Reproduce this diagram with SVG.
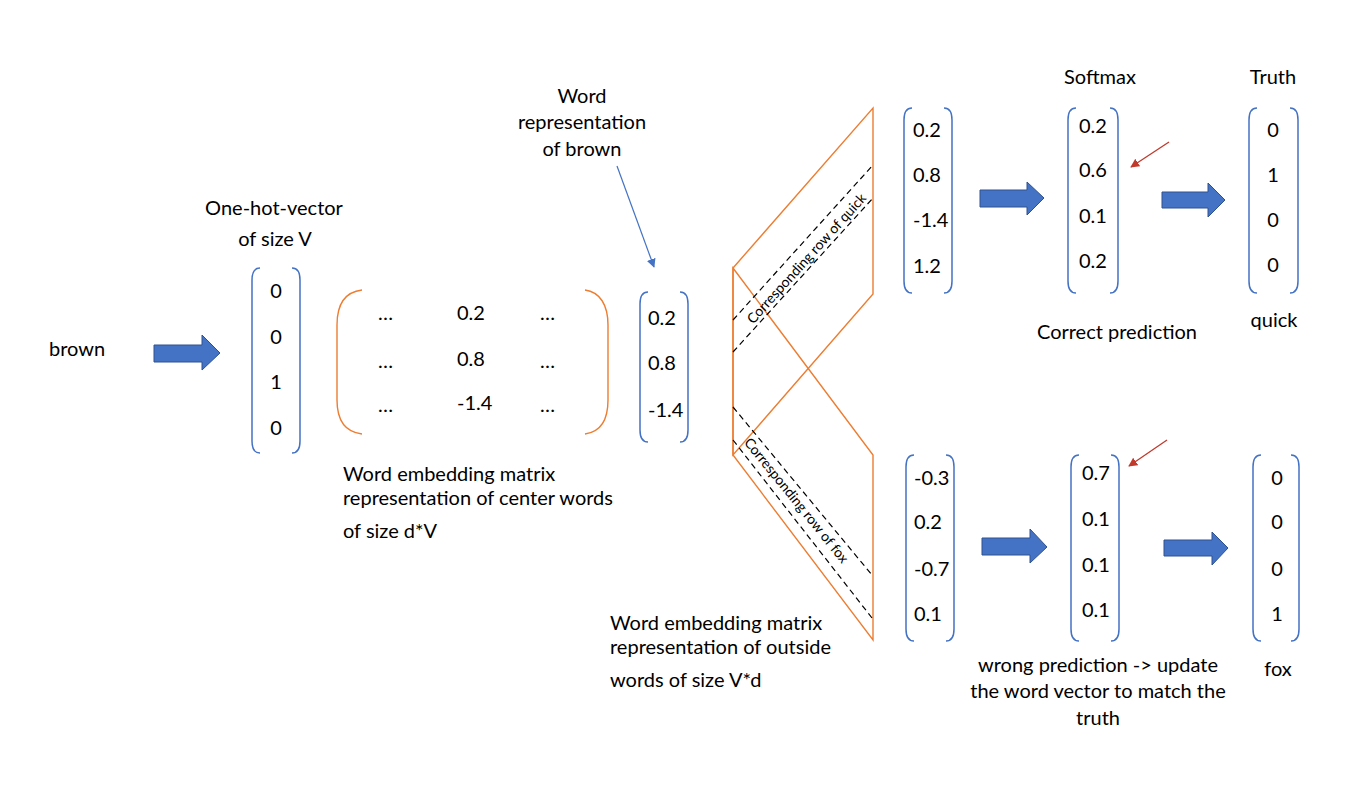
<svg xmlns="http://www.w3.org/2000/svg" width="1348" height="786" viewBox="0 0 1348 786">
<style>
text{font-family:Lato,"Liberation Sans",sans-serif;font-size:20px;fill:#000}
.c{text-anchor:middle}
.sm{font-size:14px}
.br{fill:none;stroke:#4472C4;stroke-width:1.5}
.or{fill:none;stroke:#ED7D31;stroke-width:1.4}
.ds{fill:none;stroke:#000;stroke-width:1.2;stroke-dasharray:6 4}
.ba{fill:#4472C4;stroke:#2F528F;stroke-width:1}
.bl{stroke:#4472C4;stroke-width:1.2;fill:none}
.rd{stroke:#C0392B;stroke-width:1.3;fill:none}
</style>
<defs>
<marker id="mb" viewBox="0 0 10 10" refX="9" refY="5" markerWidth="9" markerHeight="9" markerUnits="userSpaceOnUse" orient="auto"><path d="M0,0 L10,5 L0,10 z" fill="#4472C4"/></marker>
<marker id="mr" viewBox="0 0 10 10" refX="9" refY="5" markerWidth="9" markerHeight="9" markerUnits="userSpaceOnUse" orient="auto"><path d="M0,0 L10,5 L0,10 z" fill="#C0392B"/></marker>
</defs>
<rect width="1348" height="786" fill="#fff"/>

<g id="brown">
<text x="49" y="356">brown</text>
</g>

<g id="onehot">
<text class="c" x="274" y="215">One-hot-vector</text>
<text class="c" x="275" y="246">of size V</text>
<path class="br" d="M260,268 Q252,268 252,280 L252,441 Q252,453 260,453 M292,268 Q300,268 300,280 L300,441 Q300,453 292,453"/>
<text class="c" x="276" y="298">0</text>
<text class="c" x="276" y="344">0</text>
<text class="c" x="276" y="389">1</text>
<text class="c" x="276" y="435">0</text>
</g>

<g id="center-matrix">
<path class="or" d="M362,290 C345,292 337,305 337,325 L337,400 C337,420 345,432 362,434 M585,290 C600,292 608,305 608,325 L608,400 C608,420 600,432 585,434"/>
<text x="378" y="320">…</text><text x="457" y="320">0.2</text><text x="540" y="320">…</text>
<text x="378" y="368">…</text><text x="457" y="366">0.8</text><text x="540" y="368">…</text>
<text x="378" y="412">…</text><text x="457" y="410">-1.4</text><text x="540" y="412">…</text>
<text x="343" y="481">Word embedding matrix</text>
<text x="343" y="505">representation of center words</text>
<text x="343" y="538">of size d*V</text>
</g>

<g id="word-rep">
<text class="c" x="582" y="103">Word</text>
<text class="c" x="582" y="129">representation</text>
<text class="c" x="582" y="156">of brown</text>
<path class="br" d="M648,292 Q640,292 640,304 L640,430 Q640,442 648,442 M680,292 Q688,292 688,304 L688,430 Q688,442 680,442"/>
<text x="648" y="325">0.2</text>
<text x="648" y="370">0.8</text>
<text x="648" y="417">-1.4</text>
</g>

<g id="outside-matrix">
<polygon class="or" points="733,268 873,108 873,294 733,455"/>
<polygon class="or" points="733,268 873,455 873,640 733,455"/>
<line class="ds" x1="733" y1="320" x2="873" y2="165"/>
<line class="ds" x1="733" y1="352" x2="873" y2="198"/>
<line class="ds" x1="733" y1="407" x2="872" y2="575"/>
<line class="ds" x1="733" y1="440" x2="872" y2="618"/>
<text class="c sm" x="0" y="0" dominant-baseline="central" transform="translate(806,258) rotate(-47.9)">Corresponding row of quick</text>
<text class="c sm" x="0" y="0" dominant-baseline="central" transform="translate(797,500) rotate(51)">Corresponding row of fox</text>
<text x="610" y="630">Word embedding matrix</text>
<text x="610" y="654">representation of outside</text>
<text x="610" y="687">words of size V*d</text>
</g>

<g id="quick-scores">
<path class="br" d="M912,108 Q904,108 904,120 L904,281 Q904,293 912,293 M944,108 Q952,108 952,120 L952,281 Q952,293 944,293"/>
<text x="913" y="137">0.2</text>
<text x="913" y="182">0.8</text>
<text x="913" y="227">-1.4</text>
<text x="913" y="273">1.2</text>
</g>

<g id="quick-softmax">
<text class="c" x="1100" y="84">Softmax</text>
<path class="br" d="M1076,108 Q1068,108 1068,120 L1068,281 Q1068,293 1076,293 M1110,108 Q1118,108 1118,120 L1118,281 Q1118,293 1110,293"/>
<text x="1079" y="133">0.2</text>
<text x="1079" y="177">0.6</text>
<text x="1079" y="223">0.1</text>
<text x="1079" y="268">0.2</text>
<text class="c" x="1117" y="339">Correct prediction</text>
</g>

<g id="quick-truth">
<text class="c" x="1273" y="84">Truth</text>
<path class="br" d="M1257,108 Q1249,108 1249,120 L1249,281 Q1249,293 1257,293 M1290,108 Q1298,108 1298,120 L1298,281 Q1298,293 1290,293"/>
<text class="c" x="1273" y="137">0</text>
<text class="c" x="1273" y="182">1</text>
<text class="c" x="1273" y="227">0</text>
<text class="c" x="1273" y="272">0</text>
<text class="c" x="1274" y="327">quick</text>
</g>

<g id="fox-scores">
<path class="br" d="M914,455 Q906,455 906,467 L906,629 Q906,641 914,641 M946,455 Q954,455 954,467 L954,629 Q954,641 946,641"/>
<text x="914" y="485">-0.3</text>
<text x="914" y="529">0.2</text>
<text x="914" y="576">-0.7</text>
<text x="914" y="621">0.1</text>
</g>

<g id="fox-softmax">
<path class="br" d="M1079,455 Q1071,455 1071,467 L1071,629 Q1071,641 1079,641 M1111,455 Q1119,455 1119,467 L1119,629 Q1119,641 1111,641"/>
<text x="1082" y="480">0.7</text>
<text x="1082" y="526">0.1</text>
<text x="1082" y="572">0.1</text>
<text x="1082" y="617">0.1</text>
<text class="c" x="1098" y="672">wrong prediction -&gt; update</text>
<text class="c" x="1098" y="698">the word vector to match the</text>
<text class="c" x="1098" y="725">truth</text>
</g>

<g id="fox-truth">
<path class="br" d="M1261,455 Q1253,455 1253,467 L1253,629 Q1253,641 1261,641 M1291,455 Q1299,455 1299,467 L1299,629 Q1299,641 1291,641"/>
<text class="c" x="1277" y="485">0</text>
<text class="c" x="1277" y="529">0</text>
<text class="c" x="1277" y="576">0</text>
<text class="c" x="1277" y="621">1</text>
<text class="c" x="1278" y="676">fox</text>
</g>

<g id="connectors">
<polygon class="ba" points="154,345 202,345 202,335 220,353 202,370 202,362 154,362"/>
<polygon class="ba" points="980,190 1027,190 1027,182 1044,198 1027,215 1027,207 980,207"/>
<polygon class="ba" points="1162,192 1208,192 1208,183 1225,200 1208,217 1208,208 1162,208"/>
<polygon class="ba" points="982,538 1030,538 1030,529 1047,547 1030,563 1030,555 982,555"/>
<polygon class="ba" points="1164,540 1212,540 1212,532 1228,548 1212,565 1212,556 1164,556"/>
<line class="bl" x1="617" y1="166" x2="654" y2="267" marker-end="url(#mb)"/>
<line class="rd" x1="1169" y1="142" x2="1131" y2="167" marker-end="url(#mr)"/>
<line class="rd" x1="1167" y1="440" x2="1129" y2="466" marker-end="url(#mr)"/>
</g>
</svg>
